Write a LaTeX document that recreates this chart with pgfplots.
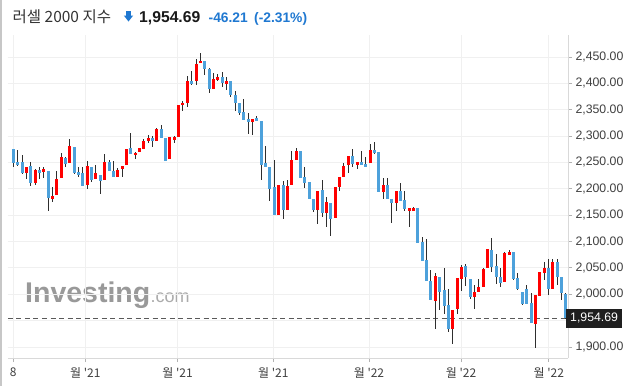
\documentclass[border=0pt]{standalone}
\usepackage{pgfplots}
\usepackage{pgfplotstable}
\pgfplotsset{compat=1.18}
\usepackage{fontspec}
\setmainfont{Liberation Sans}
\newfontfamily\kr{Noto Sans CJK KR}
\definecolor{cred}{HTML}{FF0000}
\definecolor{cblue}{HTML}{4DA1DB}
\definecolor{wick}{HTML}{2E2E2E}
\definecolor{tblue}{HTML}{1F78D1}

\pgfplotstableread{
i o h l c
0 2274.9 2276.1 2242.0 2249.6
1 2251.5 2273.6 2243.2 2245.8
2 2251.5 2264.1 2228.1 2229.3
3 2229.3 2242.0 2218.0 2242.0
4 2243.2 2250.2 2205.3 2210.4
5 2210.4 2236.9 2207.8 2235.7
6 2235.7 2242.0 2218.0 2230.6
7 2232.5 2240.7 2220.5 2237.5
8 2233.8 2233.8 2157.2 2183.2
9 2181.3 2202.8 2174.9 2186.3
10 2188.9 2234.4 2188.9 2218.0
11 2221.1 2267.3 2221.1 2260.3
12 2258.4 2261.0 2242.0 2247.7
13 2248.3 2293.8 2248.3 2281.2
14 2279.3 2279.3 2228.1 2230.6
15 2231.9 2240.7 2223.0 2226.2
16 2229.3 2240.7 2205.9 2205.9
17 2206.6 2252.1 2199.0 2243.2
18 2241.3 2241.3 2212.9 2217.3
19 2219.2 2244.5 2219.2 2230.0
20 2225.5 2225.5 2190.1 2215.4
21 2217.3 2265.4 2217.3 2250.8
22 2250.8 2254.0 2234.4 2234.4
23 2233.8 2252.1 2221.7 2221.7
24 2223.0 2238.8 2223.0 2235.0
25 2236.9 2243.2 2223.0 2243.2
26 2244.5 2274.9 2244.5 2274.9
27 2277.4 2305.2 2266.6 2266.6
28 2263.5 2270.4 2255.9 2268.5
29 2270.4 2277.4 2270.4 2277.4
30 2276.1 2294.5 2276.1 2290.7
31 2291.2 2302.6 2286.2 2296.3
32 2296.3 2300.1 2278.6 2291.2
33 2291.2 2315.3 2291.2 2312.7
34 2312.7 2320.3 2296.3 2296.3
35 2296.3 2296.3 2253.3 2253.3
36 2255.8 2298.8 2255.8 2297.6
37 2292.5 2300.1 2287.5 2297.6
38 2298.8 2358.3 2298.8 2358.3
39 2358.3 2365.9 2346.9 2363.3
40 2362.1 2413.9 2355.7 2403.8
41 2404.4 2422.8 2396.2 2399.4
42 2403.8 2446.8 2397.5 2436.7
43 2437.9 2458.2 2437.9 2441.7
44 2441.7 2441.7 2415.2 2426.5
45 2426.5 2429.1 2381.0 2389.9
46 2389.9 2419.0 2389.9 2407.6
47 2406.3 2417.7 2405.1 2411.4
48 2411.4 2421.5 2392.4 2401.3
49 2398.7 2412.6 2387.4 2403.8
50 2403.8 2403.8 2374.7 2377.2
51 2377.2 2386.1 2348.2 2363.3
52 2363.3 2363.3 2340.6 2343.1
53 2345.6 2369.7 2330.4 2330.4
54 2333.0 2343.1 2303.9 2326.7
55 2326.7 2333.0 2302.6 2333.0
56 2334.2 2338.0 2329.2 2329.2
57 2329.2 2329.2 2216.6 2245.7
58 2249.5 2281.1 2241.9 2241.9
59 2241.9 2241.9 2176.2 2200.2
60 2204.0 2254.6 2149.6 2149.6
61 2149.6 2207.8 2149.6 2207.8
62 2207.8 2215.4 2143.3 2159.7
63 2159.7 2216.7 2159.7 2205.3
64 2207.2 2271.7 2207.2 2254.6
65 2254.6 2276.7 2254.6 2271.7
66 2271.7 2271.7 2221.1 2221.1
67 2222.3 2240.7 2200.8 2211.6
68 2212.9 2212.9 2180.6 2180.6
69 2180.6 2180.6 2156.6 2159.7
70 2159.7 2195.8 2132.6 2195.8
71 2197.7 2216.7 2145.8 2153.4
72 2153.4 2183.8 2126.9 2174.9
73 2172.4 2172.4 2110.4 2142.0
74 2143.9 2202.7 2143.9 2202.7
75 2204.0 2223.0 2196.4 2223.0
76 2223.0 2248.3 2223.0 2243.2
77 2244.5 2262.2 2230.6 2262.2
78 2262.2 2274.8 2241.9 2247.6
79 2245.7 2250.8 2238.2 2250.8
80 2250.8 2271.7 2245.7 2245.7
81 2247.0 2260.9 2241.9 2241.9
82 2248.3 2285.0 2248.3 2273.6
83 2273.6 2288.7 2266.0 2268.5
84 2269.8 2269.8 2193.9 2193.9
85 2193.9 2219.8 2180.0 2207.2
86 2207.2 2219.8 2181.2 2181.2
87 2180.0 2180.0 2134.5 2172.4
88 2172.4 2195.8 2157.8 2195.8
89 2195.8 2211.6 2177.4 2177.4
90 2178.7 2195.8 2158.5 2161.0
91 2158.5 2163.5 2126.9 2163.5
92 2158.5 2164.8 2158.5 2163.5
93 2162.9 2162.9 2096.5 2096.5
94 2099.1 2109.2 2063.7 2063.7
95 2065.0 2105.4 2025.8 2025.8
96 2025.1 2046.0 1989.1 1989.1
97 1987.8 2039.7 1933.4 2034.6
98 2032.1 2032.1 1970.1 2004.9
99 2008.0 2049.1 1962.5 1977.7
100 1979.6 2009.3 1929.0 1933.4
101 1933.4 1970.1 1905.6 1970.1
102 1971.4 2030.2 1962.5 2030.2
103 2029.5 2055.5 2006.8 2051.0
104 2053.6 2057.4 2015.6 2032.1
105 2028.3 2028.3 1990.3 1994.1
106 1994.1 2016.9 1971.4 2003.6
107 2004.9 2028.3 2004.9 2013.1
108 2014.4 2049.1 2014.4 2047.2
109 2049.1 2085.2 2049.1 2085.2
110 2083.9 2106.0 2042.8 2052.3
111 2053.6 2076.3 2019.4 2032.1
112 2032.1 2049.1 2013.1 2021.9
113 2023.8 2080.8 2023.8 2077.6
114 2075.1 2083.9 2075.1 2080.1
115 2080.1 2080.1 2027.0 2029.5
116 2030.2 2039.7 2008.0 2009.3
117 2004.2 2004.2 1980.2 1981.5
118 2010.6 2016.9 1981.5 1981.5
119 1984.0 2001.7 1944.8 1944.8
120 1943.5 1998.6 1897.4 1998.6
121 1996.7 2042.2 1996.7 2042.2
122 2040.9 2061.1 2027.0 2049.8
123 2049.1 2066.2 1997.9 2010.6
124 2010.6 2066.2 2010.6 2061.1
125 2061.1 2067.5 2017.5 2033.3
126 2032.1 2032.1 1989.1 2003.0
127 2000.9 2003.0 1953.5 1954.7
}\ohlc

\begin{document}
\begin{tikzpicture}[x=1pt,y=1pt]
\path[use as bounding box] (0pt,0pt) rectangle (633pt,-386pt);
\fill[white] (0pt,0pt) rectangle (633pt,-386pt);
\draw[color=black!22, line width=1.5pt] (0.75pt,0pt) -- (0.75pt,-386pt);

% title
\node[anchor=base west, inner sep=0, text=black!80] at (12.5pt,-22pt) {\kr\fontsize{15.5}{18}\selectfont 러셀 2000 지수};
\fill[tblue] (126.3pt,-11pt) rectangle (130.7pt,-16pt);
\fill[tblue] (123.8pt,-15.5pt) -- (133.2pt,-15.5pt) -- (128.5pt,-21.5pt) -- cycle;
\node[anchor=base west, inner sep=0, text=black!90] at (139pt,-22pt) {\fontsize{15.7}{18}\selectfont\bfseries 1,954.69};
\node[anchor=base west, inner sep=0, text=tblue] at (208.5pt,-22pt) {\fontsize{13.8}{16}\selectfont\bfseries -46.21};
\node[anchor=base west, inner sep=0, text=tblue] at (254pt,-22pt) {\fontsize{13.8}{16}\selectfont\bfseries (-2.31\%)};

% watermark
\node[anchor=base west, inner sep=0, text=black!40] at (25pt,-302.5pt) {\fontsize{28.5}{30}\selectfont\bfseries Investing};
\node[anchor=base west, inner sep=0, text=black!33] at (150.5pt,-302.5pt) {\fontsize{18}{20}\selectfont .com};

\begin{axis}[
  at={(8pt,-358pt)}, anchor=south west,
  scale only axis, width=560pt, height=323pt,
  xmin=-1.22, xmax=127.5, ymin=1879.1, ymax=2491.7,
  axis x line*=bottom, axis y line*=right,
  axis line style={draw=black!15, line width=0.8pt},
  tick align=outside, major tick length=4pt,
  tick style={draw=black!30, line width=0.8pt},
  grid=major, grid style={draw=black!6, line width=0.8pt},
  ytick={1900,2000,2050,2100,2150,2200,2250,2300,2350,2400,2450},
  extra y ticks={1950}, extra y tick labels={},
  extra y tick style={grid=major},
  yticklabel={\pgfmathprintnumber[fixed,fixed zerofill,precision=2,1000 sep={,},assume math mode=true]{\tick}},
  yticklabel style={font=\fontsize{12.3}{14}\selectfont, text=black!75},
  xtick={0,16.55,37.75,59.75,81.75,102.9,123.1},
  xticklabels={8,월 '21,월 '21,월 '21,월 '22,월 '22,월 '22},
  xticklabel style={font=\kr\fontsize{12}{14}\selectfont, text=black!75, yshift=-2pt},
]
\addplot[black!65, line width=1.2pt, dash pattern=on 5pt off 3.5pt, forget plot] coordinates {(-1.22,1954.69) (127.5,1954.69)};
\addplot[draw=none, mark=none, forget plot, error bars/.cd, y dir=both, y explicit, error mark=none,
  error bar style={line width=1pt, draw=wick, solid}]
  table[x=i, y expr={0.5*(\thisrow{h}+\thisrow{l})}, y error expr={0.5*(\thisrow{h}-\thisrow{l})}] {\ohlc};
\addplot[draw=none, mark=none, forget plot, unbounded coords=discard, error bars/.cd, y dir=both, y explicit, error mark=none,
  error bar style={line width=3pt, draw=cred, solid}]
  table[x=i, y expr={\thisrow{c}>\thisrow{o} ? 0.5*(\thisrow{o}+\thisrow{c}) : nan}, y error expr={max(0.5*abs(\thisrow{c}-\thisrow{o}),0.7)}] {\ohlc};
\addplot[draw=none, mark=none, forget plot, unbounded coords=discard, error bars/.cd, y dir=both, y explicit, error mark=none,
  error bar style={line width=3pt, draw=cblue, solid}]
  table[x=i, y expr={\thisrow{c}>\thisrow{o} ? nan : 0.5*(\thisrow{o}+\thisrow{c})}, y error expr={max(0.5*abs(\thisrow{c}-\thisrow{o}),0.7)}] {\ohlc};
\end{axis}

\node[fill=black!88, text=white, anchor=west, minimum height=19pt, inner xsep=4pt, inner ysep=0pt] at (566pt,-318.1pt) {\fontsize{12.3}{14}\selectfont 1,954.69};
\end{tikzpicture}
\end{document}
